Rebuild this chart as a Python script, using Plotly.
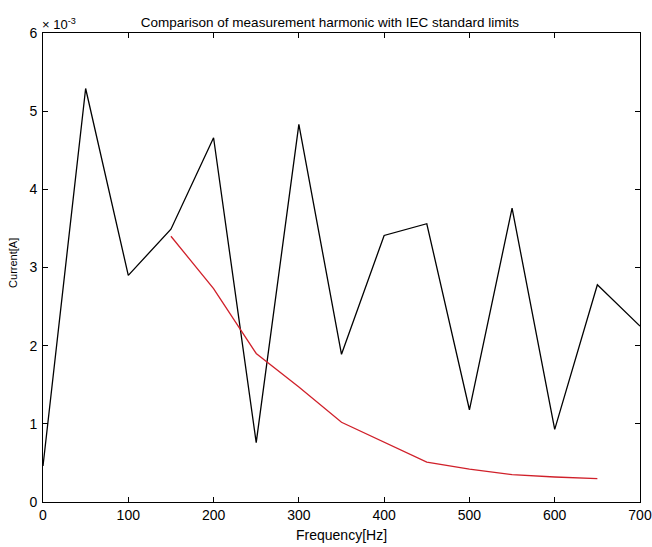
import plotly.graph_objects as go

freq = [0, 50, 100, 150, 200, 250, 300, 350, 400, 450, 500, 550, 600, 650, 700]
measured = [0.46e-3, 5.29e-3, 2.90e-3, 3.49e-3, 4.66e-3, 0.76e-3, 4.83e-3, 1.89e-3,
            3.41e-3, 3.56e-3, 1.18e-3, 3.76e-3, 0.93e-3, 2.78e-3, 2.25e-3]

limit_freq = [150, 200, 250, 300, 350, 400, 450, 500, 550, 600, 650]
limit = [3.40e-3, 2.73e-3, 1.90e-3, 1.47e-3, 1.02e-3, 0.77e-3, 0.51e-3, 0.42e-3,
         0.35e-3, 0.32e-3, 0.30e-3]

y_ticks = [0, 1e-3, 2e-3, 3e-3, 4e-3, 5e-3, 6e-3]
y_tick_labels = ["0", "1", "2", "3", "4", "5", "6"]
x_ticks = [0, 100, 200, 300, 400, 500, 600, 700]

font = "Liberation Sans, Arial, sans-serif"

fig = go.Figure()
fig.add_trace(go.Scatter(x=freq, y=measured, mode="lines",
                         line=dict(color="black", width=1.3), showlegend=False))
fig.add_trace(go.Scatter(x=limit_freq, y=limit, mode="lines",
                         line=dict(color="#d0202a", width=1.3), showlegend=False))

axis_common = dict(showline=True, linecolor="black", linewidth=1, mirror="ticks",
                   ticks="inside", ticklen=5, tickcolor="black", showgrid=False,
                   zeroline=False, ticklabeloverflow="allow", automargin=False,
                   tickfont=dict(family=font, size=14, color="black"))

fig.update_layout(
    width=652, height=547,
    margin=dict(l=43.3, r=12, t=33.3, b=44.5),
    paper_bgcolor="white", plot_bgcolor="white",
    title=dict(text="Comparison of measurement harmonic with IEC standard limits",
               x=0.506, xanchor="center", y=0.96, yanchor="middle",
               font=dict(family=font, size=13.5, color="black")),
    xaxis=dict(range=[0, 700], tickvals=x_ticks, ticklabelstandoff=0, **axis_common),
    yaxis=dict(range=[0, 6e-3], tickvals=y_ticks, ticktext=y_tick_labels,
               ticklabelstandoff=2, **axis_common),
    annotations=[
        dict(text="\u00d7 10<sup>-3</sup>", xref="paper", yref="paper",
             x=0.0, y=1.0, xanchor="left", yanchor="bottom", yshift=-1, xshift=-3,
             showarrow=False, font=dict(family=font, size=13, color="black")),
        dict(text="Frequency[Hz]", xref="paper", yref="paper", x=0.5, y=0,
             xanchor="center", yanchor="middle", yshift=-32.5, xshift=0,
             showarrow=False, font=dict(family=font, size=14, color="black")),
        dict(text="Current[A]", xref="paper", yref="paper", x=0, y=0.5,
             xanchor="center", yanchor="middle", xshift=-30.6, yshift=5, textangle=-90,
             showarrow=False, font=dict(family=font, size=11, color="black")),
    ],
)

# remove the browser's default 8px page margin so the 652x547 figure fills the window
fig.write_html("out.html",
               config={"displayModeBar": False},
               post_script="document.body.style.margin='0';document.body.style.overflow='hidden';")
